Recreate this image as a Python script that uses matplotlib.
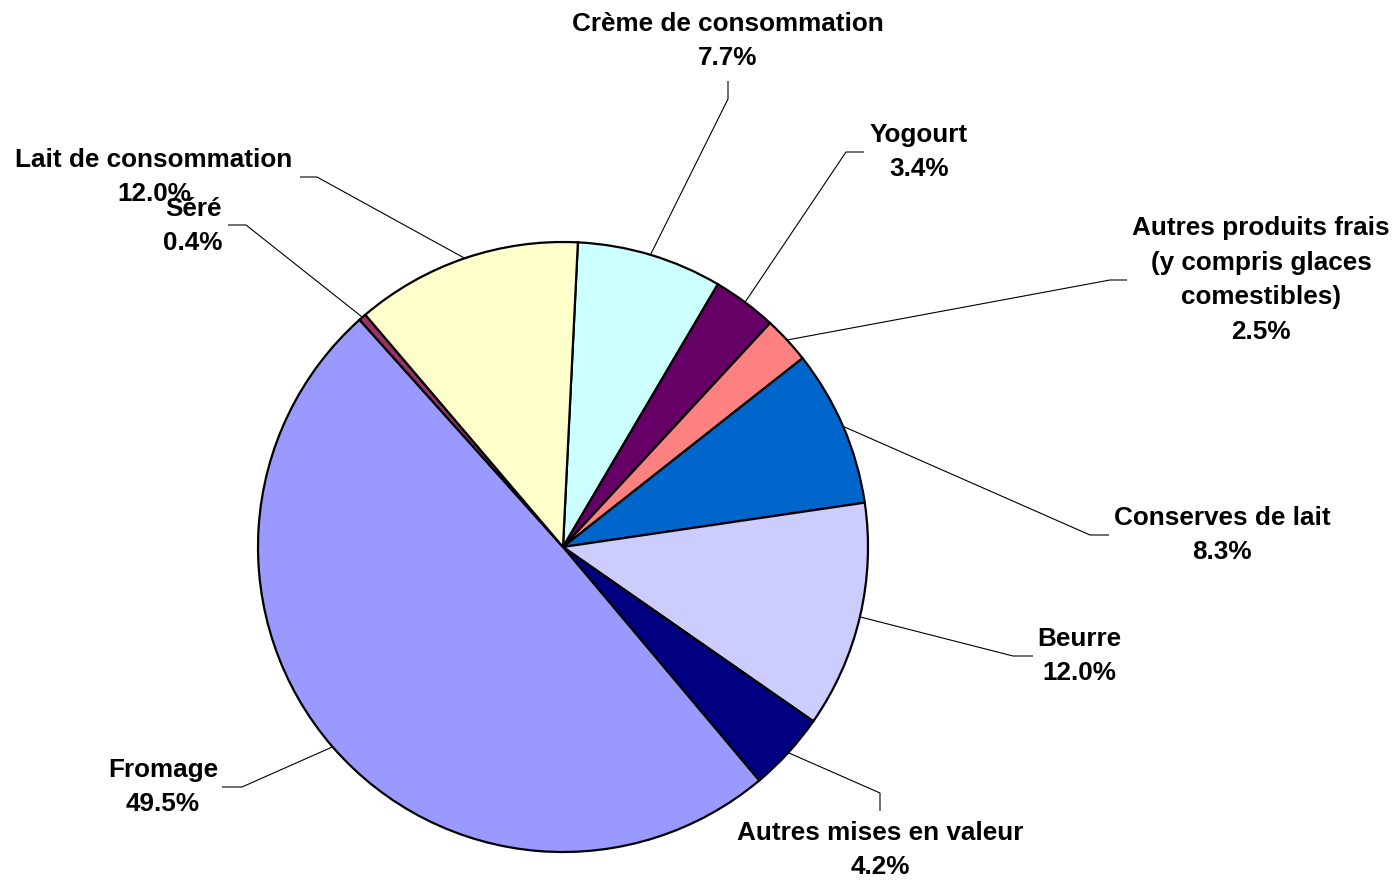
import numpy as np
import matplotlib.pyplot as plt

# data, clockwise from the top
categories = ['Crème de consommation', 'Yogourt',
              'Autres produits frais\n(y compris glaces\ncomestibles)',
              'Conserves de lait', 'Beurre', 'Autres mises en valeur',
              'Fromage', 'Séré', 'Lait de consommation']
shares = [7.7, 3.4, 2.5, 8.3, 12.0, 4.2, 49.5, 0.4, 12.0]
colors = ['#CCFFFF', '#660066', '#FF8080', '#0066CC', '#CCCCFF',
          '#000080', '#9999FF', '#993366', '#FFFFCC']

# label layout in pixels (x, y from top): text centre, elbow, end of short segment
text_pos = [(728, 41), (919, 152), (1261, 280), (1222, 535), (1079, 656),
            (880, 850), (163, 787), (193, 226), (154, 177)]
elbow = [(728, 99), (846, 152), (1110, 280), (1090, 535), (1013, 656),
         (880, 793), (242, 787), (246, 225), (317, 177)]
tail = [(728, 81), (864, 152), (1127, 280), (1109, 535), (1033, 656),
        (880, 811), (222, 787), (228, 225), (300, 177)]

W, H = 1396, 880
plt.rcParams['font.family'] = ['Liberation Sans', 'DejaVu Sans']

fig = plt.figure(figsize=(W / 100, H / 100), dpi=100)
ax = fig.add_axes([0, 0, 1, 1])


def px(p):
    return p[0], H - p[1]


center = (563, H - 547)
radius = 305
wedges, _ = ax.pie(shares, colors=colors, startangle=87.2, counterclock=False,
                   center=center, radius=radius, frame=True,
                   wedgeprops=dict(edgecolor='black', linewidth=1.6))
ax.set_xlim(0, W)
ax.set_ylim(0, H)
ax.set_aspect('equal')
ax.axis('off')

for i, w in enumerate(wedges):
    mid = np.deg2rad((w.theta1 + w.theta2) / 2)
    ax_x = center[0] + radius * np.cos(mid)
    ax_y = center[1] + radius * np.sin(mid)
    ex, ey = px(elbow[i])
    tx, ty = px(tail[i])
    ax.plot([ax_x, ex, tx], [ax_y, ey, ty], color='black', linewidth=0.8,
            solid_capstyle='butt', zorder=3)
    lx, ly = px(text_pos[i])
    ax.text(lx, ly, f'{categories[i]}\n{shares[i]:.1f}%', ha='center', va='center',
            multialignment='center', fontsize=18.8, fontweight='bold',
            linespacing=1.55, zorder=4)

fig.savefig('out.png', dpi=100)
